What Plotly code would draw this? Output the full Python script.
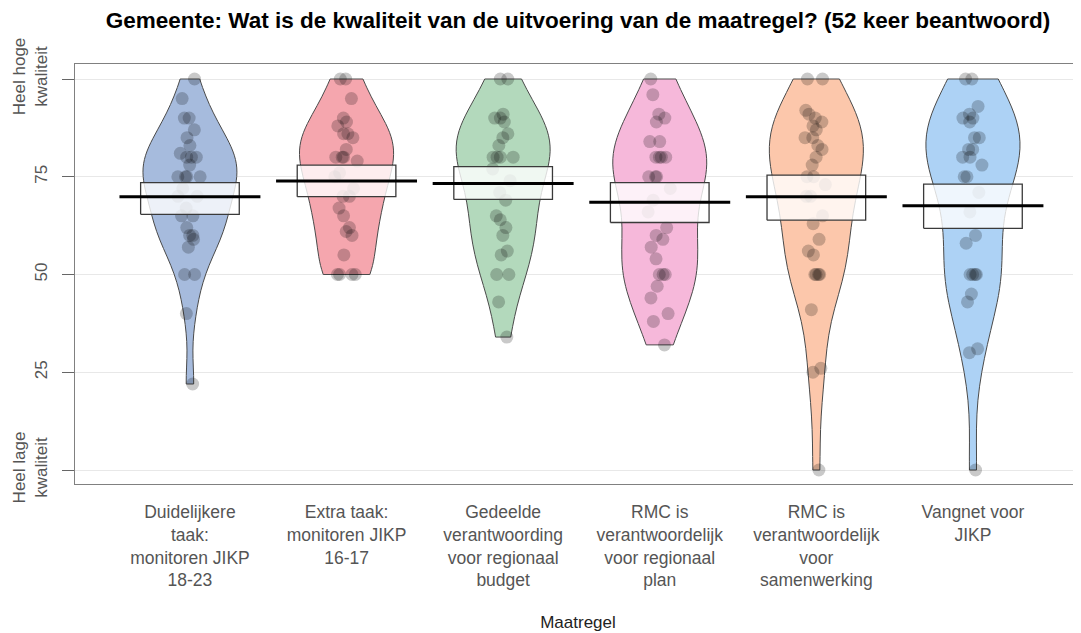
import numpy as np
import plotly.graph_objects as go

# ---------------- data ----------------
categories = [
    "Duidelijkere<br>taak:<br>monitoren JIKP<br>18-23",
    "Extra taak:<br>monitoren JIKP<br>16-17",
    "Gedeelde<br>verantwoording<br>voor regionaal<br>budget",
    "RMC is<br>verantwoordelijk<br>voor regionaal<br>plan",
    "RMC is<br>verantwoordelijk<br>voor<br>samenwerking",
    "Vangnet voor<br>JIKP",
]

scores_1 = [100, 95, 90, 90, 87, 85, 83, 81, 80, 80, 80, 78, 75, 75, 75, 75,
            72, 70, 70, 67, 65, 65, 62, 60, 60, 59, 57, 50, 50, 40, 22]
scores_2 = [100, 100, 95, 90, 89, 88, 86, 86, 85, 82, 80, 80, 80, 79, 76, 75,
            72, 70, 70, 67, 65, 62, 61, 60, 55, 50, 50, 50, 50]
scores_3 = [100, 100, 91, 90, 90, 89, 86, 85, 83, 80, 80, 80, 80, 77, 74, 71,
            69, 65, 64, 62, 60, 56, 55, 50, 50, 43, 34]
scores_4 = [100, 96, 91, 90, 89, 84, 84, 80, 80, 80, 80, 75, 75, 75, 72, 69,
            66, 62, 60, 59, 57, 54, 50, 50, 50, 47, 44, 40, 38, 32]
scores_5 = [100, 100, 92, 91, 90, 89, 88, 87, 85, 85, 83, 82, 80, 78, 75, 75,
            73, 70, 70, 65, 63, 59, 56, 55, 50, 50, 50, 50, 41, 26, 25, 0]
scores_6 = [100, 100, 93, 91, 90, 90, 89, 85, 85, 82, 82, 80, 80, 78, 75, 75,
            71, 66, 60, 58, 50, 50, 50, 50, 45, 43, 31, 30, 0]
all_scores = [scores_1, scores_2, scores_3, scores_4, scores_5, scores_6]

means = [69.9, 73.9, 73.3, 68.5, 69.9, 67.6]
band_low = [65.4, 69.9, 69.2, 63.3, 63.9, 61.8]
band_high = [73.5, 78.0, 77.6, 73.5, 75.4, 73.1]

colors = ["#a6bbdd", "#f5a6ae", "#b3d9bc", "#f6b8da", "#fcc7ab", "#add2f5"]

y_tickvals = [0, 25, 50, 75, 100]
y_ticktext = ["Heel lage<br>kwaliteit", "25", "50", "75", "Heel hoge<br>kwaliteit"]

title_text = "Gemeente: Wat is de kwaliteit van de uitvoering van de maatregel? (52 keer beantwoord)"
x_title = "Maatregel"

FONT = "Liberation Sans, Arial, Helvetica, sans-serif"


def bw_nrd0(v):
    v = np.asarray(v, dtype=float)
    sd = v.std(ddof=1)
    q75, q25 = np.percentile(v, [75, 25])
    lo = min(sd, (q75 - q25) / 1.34)
    if lo <= 0:
        lo = sd if sd > 0 else 1.0
    return 0.9 * lo * len(v) ** (-0.2)


positions = list(range(1, len(categories) + 1))
fig = go.Figure()

for pos, vals, col in zip(positions, all_scores, colors):
    fig.add_trace(go.Violin(
        x=[pos] * len(vals), y=vals,
        width=0.6, scalemode="width", spanmode="hard",
        bandwidth=bw_nrd0(vals),
        fillcolor=col, opacity=1,
        line=dict(color="#4a4a4a", width=1),
        points="all", pointpos=0, jitter=0.3,
        marker=dict(color="rgba(0,0,0,0.21)", size=13, line=dict(width=0)),
        box_visible=False, meanline_visible=False,
        hoverinfo="skip", showlegend=False,
    ))

half_band = 0.315
half_line = 0.45
for pos, lo, hi, m in zip(positions, band_low, band_high, means):
    fig.add_trace(go.Scatter(
        x=[pos - half_band, pos + half_band, pos + half_band, pos - half_band, pos - half_band],
        y=[lo, lo, hi, hi, lo],
        mode="lines", fill="toself", fillcolor="rgba(255,255,255,0.8)",
        line=dict(color="#3a3a3a", width=1.3),
        hoverinfo="skip", showlegend=False,
    ))
    fig.add_trace(go.Scatter(
        x=[pos - half_line, pos + half_line], y=[m, m],
        mode="lines", line=dict(color="black", width=3),
        hoverinfo="skip", showlegend=False,
    ))

# page body has an 8px margin, so the figure is laid out 8px smaller/offset
fig.update_layout(
    width=1073, height=625,
    margin=dict(l=67, r=0, t=56, b=149),
    paper_bgcolor="white", plot_bgcolor="white",
    font=dict(family=FONT, size=17, color="#555555"),
    title=dict(text="<b>" + title_text + "</b>", x=0.5, xref="paper",
               y=1 - 12 / 625, yref="container", yanchor="middle", xanchor="center",
               font=dict(family=FONT, size=22.5, color="black")),
    xaxis=dict(
        range=[0.266, 6.69], tickvals=positions, ticktext=categories,
        showline=True, linecolor="#808080", linewidth=1.3, mirror=True,
        ticks="", showgrid=False, zeroline=False, ticklabelstandoff=12,
        tickfont=dict(size=17.5, color="#555555"),
        title=dict(text=x_title, standoff=26, font=dict(size=17, color="#222222")),
    ),
    yaxis=dict(
        range=[-3.58, 103.84], tickvals=y_tickvals, ticktext=y_ticktext,
        tickangle=-90, ticks="outside", ticklen=12, tickcolor="#666666",
        ticklabelstandoff=8,
        showline=True, linecolor="#808080", linewidth=1.3,
        showgrid=True, gridcolor="#e8e8e8", zeroline=False,
        tickfont=dict(size=17, color="#555555"),
    ),
)

fig.write_html("out.html")
